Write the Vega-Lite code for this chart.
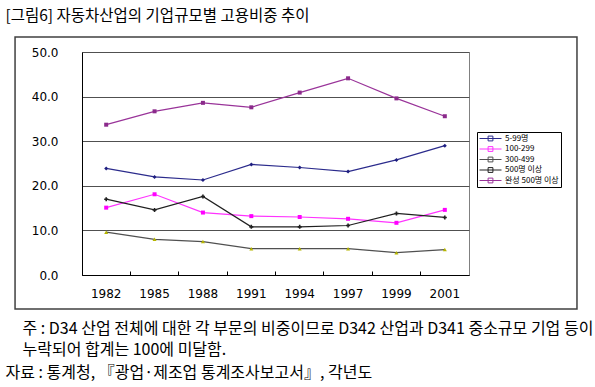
{
  "$schema": "https://vega.github.io/schema/vega-lite/v6.json",
  "width": 387,
  "height": 223,
  "autosize": {"type": "none"},
  "padding": {"left": 82, "top": 52, "right": 126, "bottom": 112},
  "background": "white",
  "config": {
    "view": {"stroke": "#808080", "strokeWidth": 1},
    "font": "Noto Sans CJK KR"
  },
  "data": {"values": [
    {"year": "1982", "series": "5-99명", "value": 23.9},
    {"year": "1985", "series": "5-99명", "value": 22.0},
    {"year": "1988", "series": "5-99명", "value": 21.3},
    {"year": "1991", "series": "5-99명", "value": 24.8},
    {"year": "1994", "series": "5-99명", "value": 24.1},
    {"year": "1997", "series": "5-99명", "value": 23.2},
    {"year": "1999", "series": "5-99명", "value": 25.8},
    {"year": "2001", "series": "5-99명", "value": 29.0},
    {"year": "1982", "series": "100-299", "value": 15.1},
    {"year": "1985", "series": "100-299", "value": 18.1},
    {"year": "1988", "series": "100-299", "value": 14.0},
    {"year": "1991", "series": "100-299", "value": 13.2},
    {"year": "1994", "series": "100-299", "value": 13.0},
    {"year": "1997", "series": "100-299", "value": 12.6},
    {"year": "1999", "series": "100-299", "value": 11.7},
    {"year": "2001", "series": "100-299", "value": 14.6},
    {"year": "1982", "series": "300-499", "value": 9.6},
    {"year": "1985", "series": "300-499", "value": 8.0},
    {"year": "1988", "series": "300-499", "value": 7.5},
    {"year": "1991", "series": "300-499", "value": 5.9},
    {"year": "1994", "series": "300-499", "value": 5.9},
    {"year": "1997", "series": "300-499", "value": 5.9},
    {"year": "1999", "series": "300-499", "value": 5.0},
    {"year": "2001", "series": "300-499", "value": 5.7},
    {"year": "1982", "series": "500명 이상", "value": 17.0},
    {"year": "1985", "series": "500명 이상", "value": 14.6},
    {"year": "1988", "series": "500명 이상", "value": 17.6},
    {"year": "1991", "series": "500명 이상", "value": 10.8},
    {"year": "1994", "series": "500명 이상", "value": 10.8},
    {"year": "1997", "series": "500명 이상", "value": 11.1},
    {"year": "1999", "series": "500명 이상", "value": 13.8},
    {"year": "2001", "series": "500명 이상", "value": 12.9},
    {"year": "1982", "series": "완성 500명 이상", "value": 33.7},
    {"year": "1985", "series": "완성 500명 이상", "value": 36.7},
    {"year": "1988", "series": "완성 500명 이상", "value": 38.6},
    {"year": "1991", "series": "완성 500명 이상", "value": 37.6},
    {"year": "1994", "series": "완성 500명 이상", "value": 40.9},
    {"year": "1997", "series": "완성 500명 이상", "value": 44.1},
    {"year": "1999", "series": "완성 500명 이상", "value": 39.6},
    {"year": "2001", "series": "완성 500명 이상", "value": 35.6}
  ]},
  "layer": [
    {
      "mark": {"type": "line", "strokeWidth": 1.2},
      "encoding": {
        "x": {
          "field": "year", "type": "ordinal", "sort": null,
          "scale": {"type": "band", "paddingInner": 0, "paddingOuter": 0},
          "axis": {
            "orient": "bottom", "labelAngle": 0, "ticks": false, "tickSize": 0,
            "domain": true, "domainColor": "#000", "labelPadding": 13,
            "labelFont": "DejaVu Sans", "labelFontSize": 12, "labelColor": "#000", "grid": false,
            "title": ["주 : D34 산업 전체에 대한 각 부문의 비중이므로 D342 산업과 D341 중소규모 기업 등이", "\u3000\u2002누락되어 합계는 100에 미달함."],
            "titleX": -60, "titleY": 45, "titleAlign": "left", "titleBaseline": "top",
            "titleFont": "Noto Sans CJK KR", "titleFontSize": 16, "titleFontWeight": "normal",
            "titleLineHeight": 21, "titleColor": "#000", "titleLimit": 1000
          }
        },
        "y": {
          "field": "value", "type": "quantitative",
          "scale": {"domain": [0, 50]},
          "axis": {
            "values": [0, 5, 10, 15, 20, 25, 30, 35, 40, 45, 50], "tickCount": 10, "format": ".1f",
            "labelOverlap": false,
            "grid": true, "gridColor": "#505050", "gridWidth": 1,
            "ticks": false, "domain": true, "domainColor": "#000", "labelPadding": 24,
            "labelFont": "DejaVu Sans", "labelFontSize": 12, "labelColor": "#000",
            "title": "[그림6] 자동차산업의 기업규모별 고용비중 추이",
            "titleAngle": 0, "titleX": -77, "titleY": -37, "titleAlign": "left", "titleBaseline": "middle",
            "titleFont": "Noto Sans CJK KR", "titleFontSize": 15.5, "titleFontWeight": "normal",
            "titleColor": "#000", "titleLimit": 1000
          }
        },
        "color": {
          "field": "series", "type": "nominal",
          "scale": {
            "domain": ["5-99명", "100-299", "300-499", "500명 이상", "완성 500명 이상"],
            "range": ["#2b2b8c", "#ff33ff", "#505050", "#202020", "#993399"]
          },
          "legend": {
            "orient": "none", "legendX": 395, "legendY": 80, "title": null,
            "padding": 2, "strokeColor": "#000", "fillColor": "white",
            "symbolType": "M-1,0H4.5M1.15,-0.6H2.35V0.6H1.15Z", "symbolSize": 64,
            "symbolStrokeWidth": 1, "labelOffset": 17, "labelFontSize": 8,
            "labelFont": "Noto Sans CJK KR", "labelColor": "#000", "rowPadding": 1.5
          }
        }
      }
    },
    {
      "mark": {"type": "point", "filled": true, "size": 16, "opacity": 1},
      "encoding": {
        "x": {
          "field": "year", "type": "ordinal", "sort": null,
          "scale": {"type": "band", "paddingInner": 0, "paddingOuter": 0},
          "axis": {
            "orient": "bottom", "labels": false, "domain": false, "grid": false,
            "ticks": true, "tickSize": -4, "tickColor": "#000", "bandPosition": 0,
            "title": "자료 : 통계청, 『광업·제조업 통계조사보고서』, 각년도",
            "titleX": -77, "titleY": 89, "titleAlign": "left", "titleBaseline": "top",
            "titleFont": "Noto Sans CJK KR", "titleFontSize": 16, "titleFontWeight": "normal",
            "titleColor": "#000", "titleLimit": 1000
          }
        },
        "y": {
          "field": "value", "type": "quantitative",
          "axis": {
            "values": [0, 5, 10, 15, 20, 25, 30, 35, 40, 45, 50], "tickCount": 10, "format": ".1f",
            "labelOverlap": false,
            "grid": true, "gridColor": "#505050", "gridWidth": 1,
            "ticks": false, "domain": true, "domainColor": "#000", "labelPadding": 24,
            "labelFont": "DejaVu Sans", "labelFontSize": 12, "labelColor": "#000",
            "title": "[그림6] 자동차산업의 기업규모별 고용비중 추이",
            "titleAngle": 0, "titleX": -77, "titleY": -37, "titleAlign": "left", "titleBaseline": "middle",
            "titleFont": "Noto Sans CJK KR", "titleFontSize": 15.5, "titleFontWeight": "normal",
            "titleColor": "#000", "titleLimit": 1000
          }
        },
        "fill": {
          "field": "series", "type": "nominal",
          "scale": {"range": ["#ff00ff", "#b5b500", "#1f1f80", "#202020", "#8b2a8b"]},
          "legend": null
        },
        "shape": {
          "field": "series", "type": "nominal",
          "scale": {"range": ["square", "triangle-up", "diamond", "cross", "square"]},
          "legend": null
        }
      }
    },
    {
      "data": {"values": [{}]},
      "mark": {"type": "rect", "fill": "transparent", "stroke": "#404040", "strokeWidth": 1.5},
      "encoding": {
        "x": {"datum": -0.173, "type": "quantitative", "scale": {"domain": [0, 1]}, "axis": null},
        "x2": {"datum": 1.279},
        "y": {
          "datum": 53.36, "type": "quantitative",
          "axis": {
            "values": [0, 5, 10, 15, 20, 25, 30, 35, 40, 45, 50], "tickCount": 10, "format": ".1f",
            "labelOverlap": false,
            "grid": true, "gridColor": "#505050", "gridWidth": 1,
            "ticks": false, "domain": true, "domainColor": "#000", "labelPadding": 24,
            "labelFont": "DejaVu Sans", "labelFontSize": 12, "labelColor": "#000",
            "title": "[그림6] 자동차산업의 기업규모별 고용비중 추이",
            "titleAngle": 0, "titleX": -77, "titleY": -37, "titleAlign": "left", "titleBaseline": "middle",
            "titleFont": "Noto Sans CJK KR", "titleFontSize": 15.5, "titleFontWeight": "normal",
            "titleColor": "#000", "titleLimit": 1000
          }
        },
        "y2": {"datum": -7.62}
      }
    }
  ],
  "resolve": {"scale": {"x": "independent"}}
}
